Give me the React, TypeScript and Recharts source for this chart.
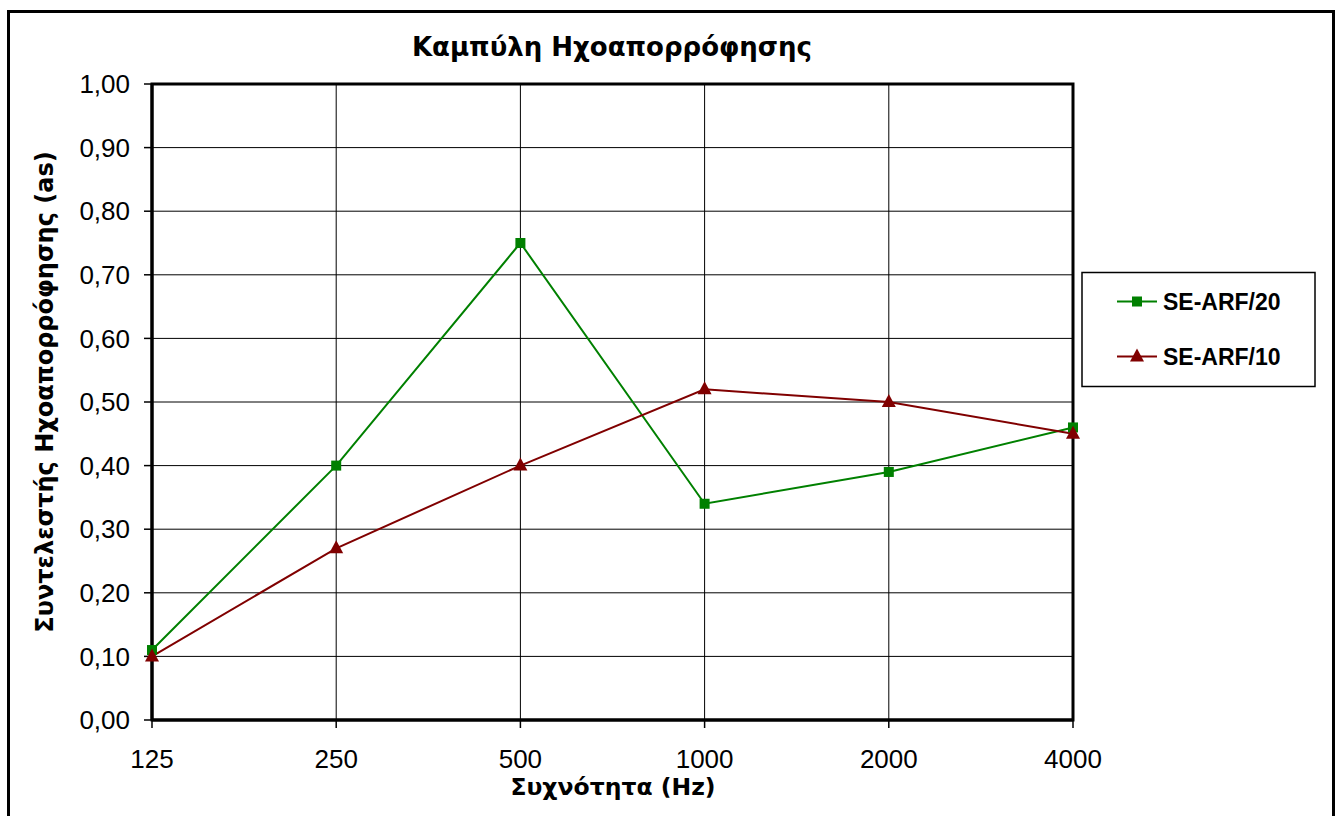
import React from 'react';
import { LineChart, Line, XAxis, YAxis, CartesianGrid, ReferenceArea } from 'recharts';

const categories = ['125', '250', '500', '1000', '2000', '4000'];
const seArf20 = [0.11, 0.4, 0.75, 0.34, 0.39, 0.46];
const seArf10 = [0.1, 0.27, 0.4, 0.52, 0.5, 0.45];
const yTicks = [0, 0.1, 0.2, 0.3, 0.4, 0.5, 0.6, 0.7, 0.8, 0.9, 1.0];
const seriesNames = ['SE-ARF/20', 'SE-ARF/10'];
const colors = ['#008000', '#800000'];

const data = categories.map((c, i) => ({ freq: c, a20: seArf20[i], a10: seArf10[i] }));

const FONT = "Arial, 'Liberation Sans', sans-serif";
const GFONT = "'DejaVu Sans', Verdana, sans-serif";

const SquareDot = (props: any) => {
  const { cx, cy, index } = props;
  if (cx == null || cy == null) return <g key={'s' + index} />;
  return <rect key={'s' + index} x={cx - 5} y={cy - 5} width={10} height={10} fill={colors[0]} />;
};

const TriDot = (props: any) => {
  const { cx, cy, index } = props;
  if (cx == null || cy == null) return <g key={'t' + index} />;
  return <path key={'t' + index} d={`M${cx},${cy - 8} L${cx + 7},${cy + 5} L${cx - 7},${cy + 5} Z`} fill={colors[1]} />;
};

const fmt = (v: number) => v.toFixed(2).replace('.', ',');

export default function App() {
  return (
    <div style={{ position: 'absolute', left: 0, top: 0, width: 1339, height: 816, background: '#fff', overflow: 'hidden' }}>
      <LineChart
        width={1339}
        height={816}
        data={data}
        margin={{ top: 84, right: 266, left: 12, bottom: 56 }}
      >
        <CartesianGrid stroke="#000" strokeWidth={1} />
        <XAxis
          dataKey="freq"
          height={40}
          axisLine={{ stroke: '#000', strokeWidth: 3 }}
          tickLine={{ stroke: '#000', strokeWidth: 1.5 }}
          tickSize={8}
          tickMargin={22}
          tick={{ fill: '#000', fontSize: 26, fontFamily: FONT }}
          interval={0}
        />
        <YAxis
          width={140}
          domain={[0, 1]}
          ticks={yTicks}
          tickFormatter={fmt}
          axisLine={{ stroke: '#000', strokeWidth: 3 }}
          tickLine={{ stroke: '#000', strokeWidth: 1.5 }}
          tickSize={8}
          tickMargin={14}
          tick={{ fill: '#000', fontSize: 26, fontFamily: FONT }}
          interval={0}
        />
        <ReferenceArea x1="125" x2="4000" y1={0} y2={1} fill="none" stroke="#000" strokeWidth={3} />
        <Line
          dataKey="a20"
          name={seriesNames[0]}
          stroke={colors[0]}
          strokeWidth={2}
          dot={SquareDot}
          activeDot={false}
          isAnimationActive={false}
        />
        <Line
          dataKey="a10"
          name={seriesNames[1]}
          stroke={colors[1]}
          strokeWidth={2}
          dot={TriDot}
          activeDot={false}
          isAnimationActive={false}
        />
      </LineChart>
      <svg width={1339} height={816} style={{ position: 'absolute', left: 0, top: 0, pointerEvents: 'none' }}>
        <rect x={8.5} y={11.5} width={1325} height={900} fill="none" stroke="#000" strokeWidth={3} />
        <text x={612} y={56} textAnchor="middle" fontFamily={GFONT} fontWeight="bold" fontSize={26} fill="#000">
          Καμπύλη Ηχοαπορρόφησης
        </text>
        <text x={613} y={795} textAnchor="middle" fontFamily={GFONT} fontWeight="bold" fontSize={23.5} fill="#000">
          Συχνότητα (Hz)
        </text>
        <text
          x={0}
          y={0}
          transform="translate(53,392) rotate(-90)"
          textAnchor="middle"
          fontFamily={GFONT}
          fontWeight="bold"
          fontSize={24}
          fill="#000"
        >
          Συντελεστής Ηχοαπορρόφησης (as)
        </text>
        <rect x={1082} y={272.5} width={233} height={114} fill="#fff" stroke="#000" strokeWidth={1.5} />
        <line x1={1117} y1={301.5} x2={1157} y2={301.5} stroke={colors[0]} strokeWidth={2} />
        <rect x={1132} y={296.5} width={10} height={10} fill={colors[0]} />
        <text x={1163} y={309.5} fontFamily={FONT} fontWeight="bold" fontSize={23} fill="#000">
          {seriesNames[0]}
        </text>
        <line x1={1117} y1={356.5} x2={1157} y2={356.5} stroke={colors[1]} strokeWidth={2} />
        <path d="M1137,348.5 L1144,361.5 L1130,361.5 Z" fill={colors[1]} />
        <text x={1163} y={364.5} fontFamily={FONT} fontWeight="bold" fontSize={23} fill="#000">
          {seriesNames[1]}
        </text>
      </svg>
    </div>
  );
}
